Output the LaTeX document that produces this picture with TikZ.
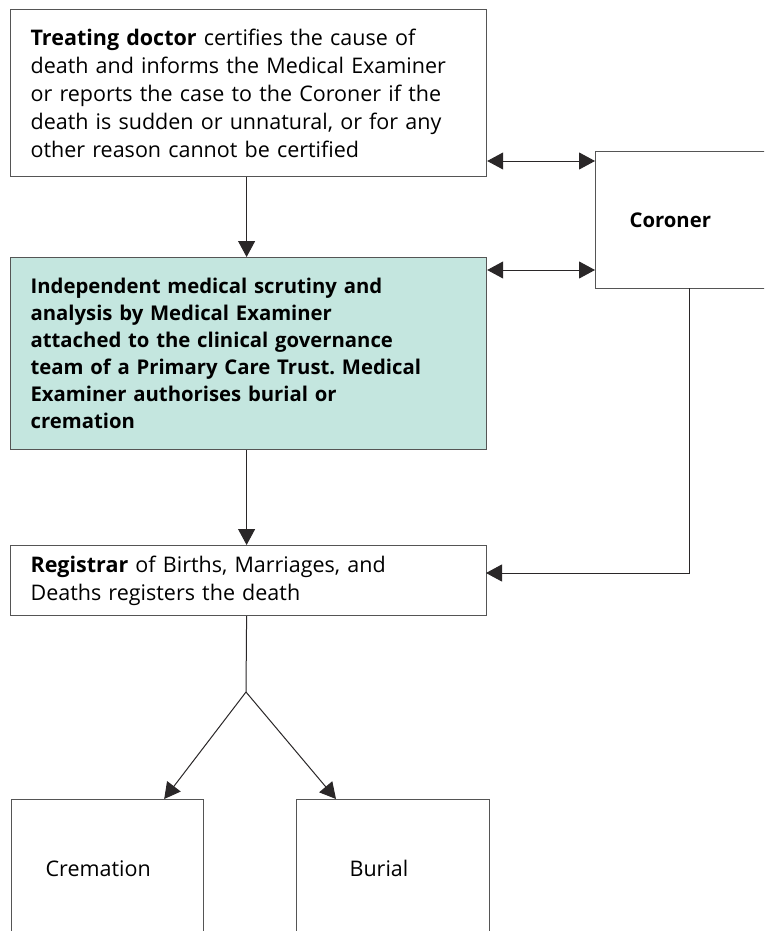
\documentclass[tikz,border=0pt]{standalone}
\usepackage{fontspec}
\setmainfont{Open Sans}
\usetikzlibrary{arrows.meta,calc}
\definecolor{mefill}{HTML}{C4E6DF}
\definecolor{boxline}{HTML}{555555}
\definecolor{linec}{HTML}{2A2728}
\frenchspacing
\begin{document}
\begin{tikzpicture}[x=1pt,y=-1pt,
  box/.style={draw=boxline, line width=1.2pt, rectangle, anchor=north west,
    inner sep=0pt, font=\fontsize{21.5}{28}\selectfont, align=left},
  conn/.style={draw=linec, line width=1pt},
  arr/.style={conn, -{Triangle[length=16pt,width=17pt]}},
  dbl/.style={conn, {Triangle[length=16pt,width=17pt]}-{Triangle[length=16pt,width=17pt]}}]
\clip (0,0) rectangle (764,931);
\fill[white] (0,0) rectangle (764,931);

\node[box, minimum width=476pt, minimum height=167pt, text width=436pt, inner xsep=20pt] (b1) at (10,9)
 {\textbf{Treating doctor} certifies the cause of\\
  death and informs the Medical Examiner\\
  or reports the case to the Coroner if the\\
  death is sudden or unnatural, or for any\\
  other reason cannot be certified};

\node[box, fill=mefill, minimum width=476pt, minimum height=192pt, text width=436pt, inner xsep=20pt, font=\fontsize{20.3}{27}\selectfont\bfseries] (b2) at (10,257)
 {Independent medical scrutiny and\\
  analysis by Medical Examiner\\
  attached to the clinical governance\\
  team of a Primary Care Trust. Medical\\
  Examiner authorises burial or\\
  cremation};

\node[box, minimum width=185pt, minimum height=137pt, text width=117pt, inner xsep=34pt, font=\fontsize{20.3}{28}\selectfont\bfseries] (cor) at (595,151) {Coroner};

\node[box, minimum width=476pt, minimum height=70pt, text width=436pt, inner xsep=20pt] (reg) at (10,545)
 {\textbf{Registrar} of Births, Marriages, and\\
  Deaths registers the death};

\node[box, minimum width=192pt, minimum height=138pt, text width=124pt, inner xsep=34pt] (crem) at (11,799) {Cremation};
\node[box, minimum width=193pt, minimum height=138pt, text width=87pt, inner xsep=53pt] (bur) at (296,799) {Burial};

\coordinate (u) at (595,161);
\coordinate (l) at (595,270);
\coordinate (cd) at (689,288);
\coordinate (rc) at (486,573);
\coordinate (split) at (246,692);

\draw[arr] ([xshift=-2pt]b1.south) -- ([xshift=-2pt]b2.north);
\draw[arr] ([xshift=-2pt]b2.south) -- ([xshift=-2pt]reg.north);
\draw[dbl] (b1.east |- u) -- (u);
\draw[dbl] (b2.east |- l) -- (l);
\draw[arr] (cd) |- (rc);
\draw[conn] ([xshift=-2pt]reg.south) -- (split);
\draw[arr] (split) -- ([xshift=-40pt]crem.north east);
\draw[arr] (split) -- ([xshift=40pt]bur.north west);
\end{tikzpicture}
\end{document}
